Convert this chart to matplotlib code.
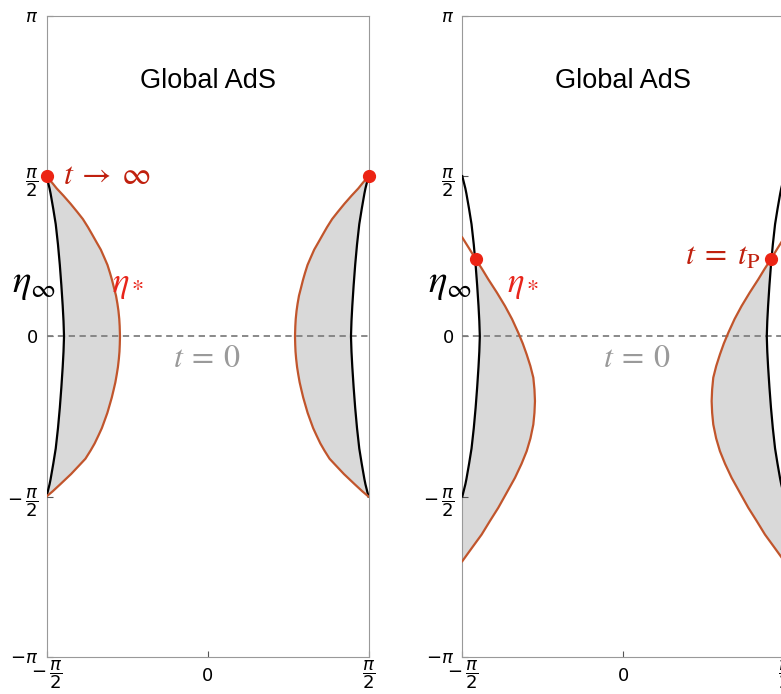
import numpy as np
import matplotlib
matplotlib.use("Agg")
import matplotlib.pyplot as plt
from matplotlib.transforms import ScaledTranslation

# --- DATA (radians) ---
HALF_PI = np.pi / 2

# eta_infinity: distance from the left edge (x = -pi/2) versus y
eta_inf_y = [HALF_PI, 1.45, 1.4, 1.25, 1.1, 0.9, 0.7, 0.5, 0.3, 0.15, 0.0,
             -0.15, -0.3, -0.5, -0.7, -0.9, -1.1, -1.25, -1.4, -1.45, -HALF_PI]
eta_inf_d = [0.0, 0.03, 0.04, 0.066, 0.09, 0.112, 0.13, 0.145, 0.158, 0.166, 0.171,
             0.166, 0.158, 0.145, 0.13, 0.112, 0.09, 0.066, 0.04, 0.03, 0.0]

# eta_* in the t -> infinity panel
star_left_y = [HALF_PI, 1.5, 1.45, 1.38, 1.3, 1.22, 1.15, 1.07, 1.0, 0.92, 0.85, 0.77, 0.7,
               0.62, 0.55, 0.47, 0.4, 0.32, 0.25, 0.17, 0.1, 0.0,
               -0.08, -0.15, -0.22, -0.3, -0.37, -0.45, -0.52, -0.6, -0.67, -0.75, -0.82,
               -0.9, -0.97, -1.05, -1.12, -1.2, -1.27, -1.35, -1.45, -1.52, -HALF_PI]
star_left_d = [0.0, 0.06, 0.10, 0.165, 0.235, 0.30, 0.355, 0.405, 0.445, 0.49, 0.53, 0.565, 0.595,
               0.62, 0.64, 0.66, 0.678, 0.692, 0.702, 0.71, 0.714, 0.717,
               0.715, 0.712, 0.706, 0.697, 0.686, 0.672, 0.656, 0.637, 0.617, 0.594, 0.569,
               0.54, 0.508, 0.47, 0.43, 0.38, 0.315, 0.24, 0.135, 0.06, 0.0]

# eta_* in the t = t_P panel
star_right_y = [0.969, 0.86, 0.756, 0.66, 0.559, 0.43, 0.297, 0.17, 0.036, -0.07, -0.177,
                -0.29, -0.405, -0.52, -0.635, -0.75, -0.864, -1.0, -1.126, -1.25, -1.387,
                -1.53, -1.681, -1.81, -1.943, -2.07, -2.205]
star_right_d = [0.0, 0.068, 0.131, 0.193, 0.254, 0.337, 0.417, 0.485, 0.546, 0.59, 0.628,
                0.664, 0.693, 0.704, 0.709, 0.704, 0.693, 0.665, 0.628, 0.578, 0.514,
                0.435, 0.351, 0.27, 0.189, 0.097, 0.0]

# crossing points (red dots): (distance from edge, y)
dots_left = [(0.0, HALF_PI)]
dots_right = [(0.131, 0.756)]

y_ticks = [-np.pi, -HALF_PI, 0, HALF_PI, np.pi]
y_ticklabels = [r'$-\pi$', r'$-\,\dfrac{\pi}{2}$', r'$0$', r'$\dfrac{\pi}{2}$', r'$\pi$']
x_ticks = [-HALF_PI, 0, HALF_PI]
x_ticklabels = [r'$-\,\dfrac{\pi}{2}$', r'$0$', r'$\dfrac{\pi}{2}$']

# --- STYLE ---
ORANGE = '#c1552c'
DOT = '#ec2414'
DARKRED = '#c0200e'
RED = '#e8251b'
FILL = '#d9d9d9'
SPINE = '#999999'

plt.rcParams['font.family'] = ['Liberation Sans', 'DejaVu Sans']
plt.rcParams['mathtext.fontset'] = 'dejavusans'

fig = plt.figure(figsize=(7.81, 6.94), dpi=100)
W, H = 781, 694
ax_l = fig.add_axes([46.5 / W, 37.3 / H, 322 / W, 640.7 / H])
ax_r = fig.add_axes([462.3 / W, 37.3 / H, 322 / W, 640.7 / H])


def setup(ax):
    ax.set_xlim(-HALF_PI, HALF_PI)
    ax.set_ylim(-np.pi, np.pi)
    for s in ax.spines.values():
        s.set_color(SPINE)
        s.set_linewidth(0.8)
    ax.set_yticks(y_ticks)
    ax.set_yticklabels(y_ticklabels)
    ax.set_xticks(x_ticks)
    ax.set_xticklabels(x_ticklabels)
    ax.tick_params(direction='in', length=4, width=0.8, color='#555555',
                   labelsize=13)
    ax.tick_params(axis='y', pad=6)
    ax.tick_params(axis='x', pad=1)
    # centre the plain "0" on the x axis against the fractions
    zero = ax.get_xticklabels()[1]
    zero.set_transform(zero.get_transform() + ScaledTranslation(0, -7 / 72, fig.dpi_scale_trans))
    ax.axhline(0, color='#808080', lw=1.3, ls=(0, (3.5, 2.5)), zorder=3)
    ax.text(0, 2.5, 'Global AdS', ha='center', va='center', fontsize=19.5)


def sides(d, y):
    d = np.asarray(d)
    return -HALF_PI + d, HALF_PI - d, np.asarray(y)


setup(ax_l)
setup(ax_r)

# left panel: t -> infinity
bl, br, by = sides(eta_inf_d, eta_inf_y)
sl, sr, sy = sides(star_left_d, star_left_y)
ax_l.fill(np.concatenate([sl, bl[::-1]]), np.concatenate([sy, by[::-1]]), color=FILL, lw=0, zorder=1)
ax_l.fill(np.concatenate([sr, br[::-1]]), np.concatenate([sy, by[::-1]]), color=FILL, lw=0, zorder=1)
for xs in (bl, br):
    ax_l.plot(xs, by, color='black', lw=1.6, zorder=4)
for xs in (sl, sr):
    ax_l.plot(xs, sy, color=ORANGE, lw=1.6, zorder=4)
for d, y in dots_left:
    ax_l.plot([-HALF_PI + d, HALF_PI - d], [y, y], 'o', color=DOT, ms=8.5, zorder=6, clip_on=False)

# right panel: t = t_P
rl, rr, ry = sides(star_right_d, star_right_y)
cd, cy = dots_right[0]
inf_d = np.asarray(eta_inf_d)
inf_y = np.asarray(eta_inf_y)
keep = inf_y < cy
poly_d = np.concatenate([np.asarray(star_right_d)[ry <= cy], [0.0], inf_d[keep][::-1], [cd]])
poly_y = np.concatenate([ry[ry <= cy], [-HALF_PI], inf_y[keep][::-1], [cy]])
ax_r.fill(-HALF_PI + poly_d, poly_y, color=FILL, lw=0, zorder=1)
ax_r.fill(HALF_PI - poly_d, poly_y, color=FILL, lw=0, zorder=1)
for xs in (bl, br):
    ax_r.plot(xs, by, color='black', lw=1.6, zorder=4)
for xs in (rl, rr):
    ax_r.plot(xs, ry, color=ORANGE, lw=1.6, zorder=4)
for d, y in dots_right:
    ax_r.plot([-HALF_PI + d, HALF_PI - d], [y, y], 'o', color=DOT, ms=8.5, zorder=6, clip_on=False)

# annotations
mt = dict(math_fontfamily='stix', clip_on=False, zorder=7)
ax_l.text(-1.41, 1.57, r'$t\:\rightarrow\:\infty$', color=DARKRED, fontsize=23, ha='left', va='center', **mt)
for ax, xe, xs, xt in ((ax_l, -1.908, -0.932, -0.337), (ax_r, -1.906, -1.135, -0.198)):
    ax.text(xe, 0.437, r'$\eta_\infty$', color='black', fontsize=28, ha='left', va='baseline', **mt)
    ax.text(xs, 0.437, r'$\eta_*$', color=RED, fontsize=25, ha='left', va='baseline', **mt)
    ax.text(xt, -0.30, r'$t\:=\:0$', color='#9a9a9a', fontsize=23, ha='left', va='baseline', **mt)
ax_r.text(0.60, 0.70, r'$t\;=\;t_{\mathrm{P}}$', color=DARKRED, fontsize=23, ha='left', va='baseline', **mt)

fig.savefig('out.png', dpi=100)
